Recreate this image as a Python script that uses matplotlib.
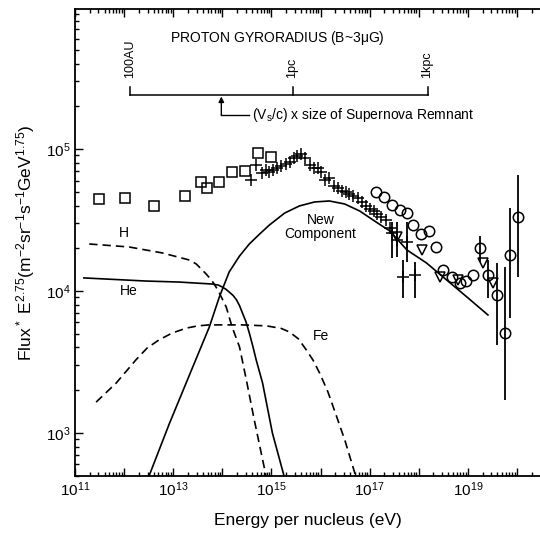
import numpy as np
import matplotlib.pyplot as plt
from matplotlib.ticker import LogLocator, FuncFormatter, NullFormatter

plt.rcParams['font.family'] = ['Liberation Sans', 'DejaVu Sans']
plt.rcParams['mathtext.default'] = 'regular'

# model components: log10(E / eV) and flux * E^2.75
h_logE = [11.29, 12.10, 12.78, 13.02, 13.33, 13.47, 13.59, 13.67, 13.78, 13.86, 13.94,
          14.08, 14.20, 14.35, 14.49, 14.65, 14.90]
h_flux = [21430, 20420, 18530, 17620, 16520, 15490, 14060, 13180, 11940, 10840, 9680,
          7710, 5570, 4040, 2360, 1240, 480]

he_logE = [11.18, 12.45, 13.12, 13.80, 13.92, 14.00, 14.07, 14.14, 14.22, 14.29, 14.35,
           14.41, 14.48, 14.55, 14.62, 14.69, 14.82, 15.02, 15.27]
he_flux = [12360, 11750, 11560, 11190, 11000, 10660, 10300, 9840, 9300, 8650, 7900,
           7000, 6100, 5060, 4100, 3270, 2250, 1000, 480]

fe_logE = [11.43, 11.84, 12.24, 12.47, 12.71, 12.98, 13.27, 13.50, 13.73, 14.41, 14.90,
           15.20, 15.37, 15.55, 15.71, 15.85, 15.98, 16.15, 16.33, 16.50, 16.73]
fe_flux = [1650, 2250, 3270, 3970, 4520, 5060, 5480, 5680, 5770, 5770, 5680,
           5450, 5140, 4600, 3850, 3250, 2650, 1950, 1300, 880, 480]

new_logE = [12.49, 12.92, 13.39, 13.735, 13.94, 14.14, 14.35, 14.55, 14.76, 14.96, 15.27,
            15.57, 15.88, 16.18, 16.49, 16.80, 17.10, 17.41, 17.76, 18.16, 18.57, 18.98, 19.41]
new_flux = [480, 1160, 2870, 5570, 9080, 13610, 17620, 21430, 25180, 29170, 35400,
            39720, 42360, 43050, 41020, 36560, 31120, 26490, 19450, 15740, 11940, 9080, 6780]

# measurements
sq_logE = [11.49, 12.02, 12.61, 13.24, 13.57, 13.69, 13.94, 14.20, 14.47, 14.73, 15.00]
sq_flux = [44500, 45200, 39700, 46700, 58600, 53100, 58600, 68900, 70000, 93800, 87900]

cr_logE = [14.59, 14.69, 14.80, 14.88, 14.96, 15.04, 15.12, 15.20, 15.29, 15.37, 15.45, 15.53,
           15.61, 15.69, 15.78, 15.86, 15.94, 16.02, 16.10, 16.18, 16.27, 16.35, 16.43, 16.51,
           16.59, 16.67, 16.76, 16.84, 16.92, 17.00, 17.08, 17.16, 17.24, 17.33, 17.41]
cr_flux = [60500, 77000, 68000, 71000, 69000, 71000, 73500, 76000, 78000, 81000, 86000, 89000,
           92000, 86000, 77000, 73500, 73500, 69000, 60500, 62500, 55000, 53000, 51000, 49800,
           48000, 46700, 45000, 42000, 39700, 38000, 36500, 35000, 33000, 31600, 27800]

crb_logE = [17.45, 17.55, 17.67, 17.76, 17.92]
crb_flux = [25600, 22800, 12600, 22100, 13000]
crb_lo = [17100, 17300, 8930, 16000, 8930]
crb_hi = [30600, 30600, 16500, 30600, 16000]

ci_logE = [17.14, 17.29, 17.45, 17.61, 17.76, 17.88, 18.04, 18.20, 18.35, 18.49, 18.67, 18.84, 18.96, 19.10]
ci_flux = [49800, 45900, 40400, 37200, 35400, 29200, 25200, 26500, 20400, 14100, 12600, 11400, 11700, 13000]

cib_logE = [19.25, 19.41, 19.59, 19.76, 19.86, 20.02]
cib_flux = [20100, 13000, 9400, 5060, 17900, 33200]
cib_lo = [16000, 8900, 4170, 1710, 6450, 12600]
cib_hi = [24400, 16500, 15700, 14800, 38500, 65600]

tr_logE = [17.55, 18.06, 18.43, 18.80, 19.31, 19.51]
tr_flux = [24000, 19500, 12600, 11900, 15700, 11400]

E = lambda a: 10 ** np.array(a)

fig = plt.figure(figsize=(5.4, 5.33), dpi=100)
ax = fig.add_axes([75 / 540, 57 / 533, 465 / 540, 467 / 533])
ax.set_xscale('log')
ax.set_yscale('log')

dash = (0, (5, 3))
ax.plot(E(h_logE), h_flux, color='k', lw=1.2, ls=dash)
ax.plot(E(he_logE), he_flux, color='k', lw=1.2)
ax.plot(E(fe_logE), fe_flux, color='k', lw=1.2, ls=dash)
ax.plot(E(new_logE), new_flux, color='k', lw=1.2)

mk = dict(ls='none', mfc='none', mec='k', color='k', mew=1.1)
ax.plot(E(sq_logE), sq_flux, marker='s', ms=7.5, **mk)
ax.plot(E(cr_logE), cr_flux, marker='+', ms=8, **mk)
ax.plot(E(ci_logE), ci_flux, marker='o', ms=7.5, **mk)
ax.plot(E(tr_logE), tr_flux, marker='v', ms=7.5, **mk)

f = np.array(crb_flux)
ax.errorbar(E(crb_logE), f, yerr=[f - np.array(crb_lo), np.array(crb_hi) - f],
            fmt='+', ms=8, color='k', mew=1.1, elinewidth=1.3, capsize=0)
f = np.array(cib_flux)
ax.errorbar(E(cib_logE), f, yerr=[f - np.array(cib_lo), np.array(cib_hi) - f],
            fmt='o', ms=7.5, mfc='none', mec='k', color='k', mew=1.1, elinewidth=1.3, capsize=0)

ax.set_xlim(1e11, 10 ** 20.47)
ax.set_ylim(10 ** 2.697, 10 ** 5.986)

ax.xaxis.set_major_locator(LogLocator(base=10, numticks=20))
ax.xaxis.set_minor_locator(LogLocator(base=10, subs=np.arange(2, 10), numticks=100))


def xfmt(v, pos):
    p = int(round(np.log10(v)))
    return r'$10^{%d}$' % p if p % 2 == 1 else ''


ax.xaxis.set_major_formatter(FuncFormatter(xfmt))
ax.xaxis.set_minor_formatter(NullFormatter())
ax.yaxis.set_major_formatter(FuncFormatter(lambda v, pos: r'$10^{%d}$' % int(round(np.log10(v)))))
ax.yaxis.set_minor_formatter(NullFormatter())

ax.tick_params(which='both', direction='in', top=True, right=False, labelsize=11, width=1)
ax.tick_params(which='major', length=6)
ax.tick_params(which='minor', length=3)
ax.spines['right'].set_visible(False)
for s in ['left', 'bottom', 'top']:
    ax.spines[s].set_linewidth(1.3)

ax.set_xlabel('Energy per nucleus (eV)', fontsize=12.5, labelpad=10)
ax.set_ylabel(r'Flux$^*$ E$^{2.75}$(m$^{-2}$sr$^{-1}$s$^{-1}$GeV$^{1.75}$)', fontsize=12.5, labelpad=6)

# curve labels
ax.text(10 ** 12.0, 10 ** 4.41, 'H', fontsize=10, ha='center', va='center')
ax.text(10 ** 12.1, 10 ** 4.0, 'He', fontsize=10, ha='center', va='center')
ax.text(10 ** 16.0, 10 ** 3.68, 'Fe', fontsize=10, ha='center', va='center')
ax.text(10 ** 16.0, 10 ** 4.45, 'New\nComponent', fontsize=10, ha='center', va='center',
        linespacing=1.0)

# proton gyroradius scale
ax.text(10 ** 15.12, 10 ** 5.782, r'PROTON GYRORADIUS (B~3$\mu$G)', fontsize=10,
        ha='center', va='center')
ybar = 10 ** 5.38
ytop = 10 ** 5.437
ax.plot([10 ** 12.12, 10 ** 18.18], [ybar, ybar], color='k', lw=1.1)
for lx, lab in [(12.12, '100AU'), (15.43, '1pc'), (18.18, '1kpc')]:
    ax.plot([10 ** lx, 10 ** lx], [ybar, ytop], color='k', lw=1.1)
    ax.text(10 ** lx, 10 ** 5.50, lab, rotation=90, fontsize=9, ha='center', va='bottom')
ax.annotate('', xy=(10 ** 13.98, 10 ** 5.37), xytext=(10 ** 13.98, 10 ** 5.239),
            arrowprops=dict(arrowstyle='-|>', color='k', lw=1.0, mutation_scale=8,
                            shrinkA=0, shrinkB=0))
ax.plot([10 ** 13.98, 10 ** 14.55], [10 ** 5.239, 10 ** 5.239], color='k', lw=1.0)
ax.text(10 ** 14.61, 10 ** 5.239, r'(V$_s$/c) x size of Supernova Remnant', fontsize=10,
        ha='left', va='center')

fig.savefig('out.png', dpi=100)
